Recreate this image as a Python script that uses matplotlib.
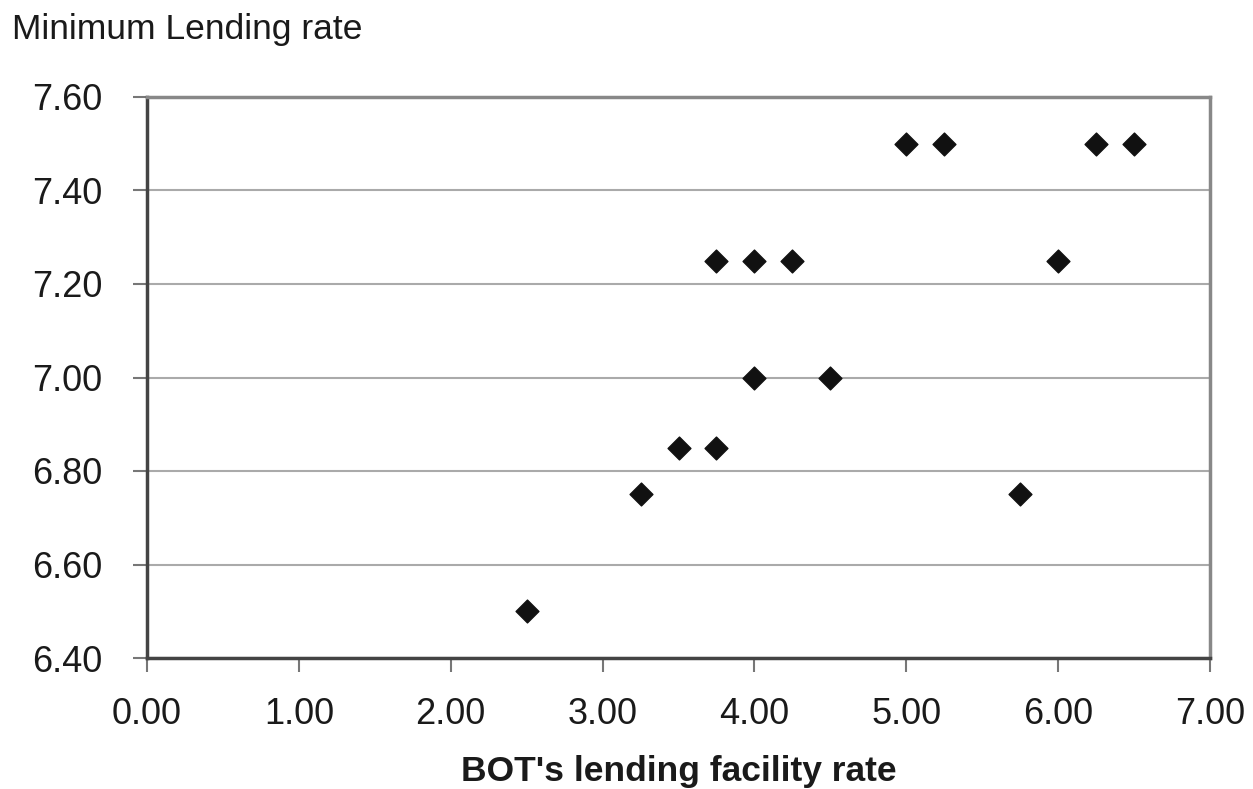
import matplotlib.pyplot as plt

# BOT's lending facility rate vs minimum lending rate
bot_rate = [2.50, 3.25, 3.50, 3.75, 4.00, 4.50, 3.75, 4.00, 4.25,
            5.00, 5.25, 5.75, 6.00, 6.25, 6.50]
mlr = [6.50, 6.75, 6.85, 6.85, 7.00, 7.00, 7.25, 7.25, 7.25,
       7.50, 7.50, 6.75, 7.25, 7.50, 7.50]

x_ticks = [0, 1, 2, 3, 4, 5, 6, 7]
y_ticks = [6.40, 6.60, 6.80, 7.00, 7.20, 7.40, 7.60]

plt.rcParams['font.family'] = ['Liberation Sans', 'DejaVu Sans']

fig = plt.figure(figsize=(12.53, 7.89), dpi=100)
ax = fig.add_axes([147 / 1253, 1 - 658 / 789, (1210 - 147) / 1253, (658 - 97) / 789])

ax.scatter(bot_rate, mlr, marker='D', s=135, color='#111111', zorder=3)

ax.set_xlim(0, 7)
ax.set_ylim(6.4, 7.6)
ax.set_xticks(x_ticks)
ax.set_xticklabels(['%.2f' % v for v in x_ticks])
ax.set_yticks(y_ticks)
ax.set_yticklabels(['%.2f' % v for v in y_ticks])

ax.yaxis.grid(True, color='#aaaaaa', linewidth=1.5)
ax.set_axisbelow(True)

for side in ['left', 'bottom']:
    ax.spines[side].set_color('#444444')
    ax.spines[side].set_linewidth(2.5)
for side in ['top', 'right']:
    ax.spines[side].set_color('#888888')
    ax.spines[side].set_linewidth(2.5)

ax.tick_params(axis='both', direction='out', length=10, width=1.5,
               color='#777777', labelsize=26, labelcolor='#1a1a1a')
ax.tick_params(axis='x', pad=18)
ax.tick_params(axis='y', pad=22)

ax.set_xlabel("BOT's lending facility rate", fontsize=25.5, fontweight='bold',
              labelpad=17, color='#1a1a1a')
fig.text(12 / 1253, 1 - 29 / 789, 'Minimum Lending rate', fontsize=25.5,
         va='center', ha='left', color='#1a1a1a')

fig.savefig('out.png', dpi=100)
